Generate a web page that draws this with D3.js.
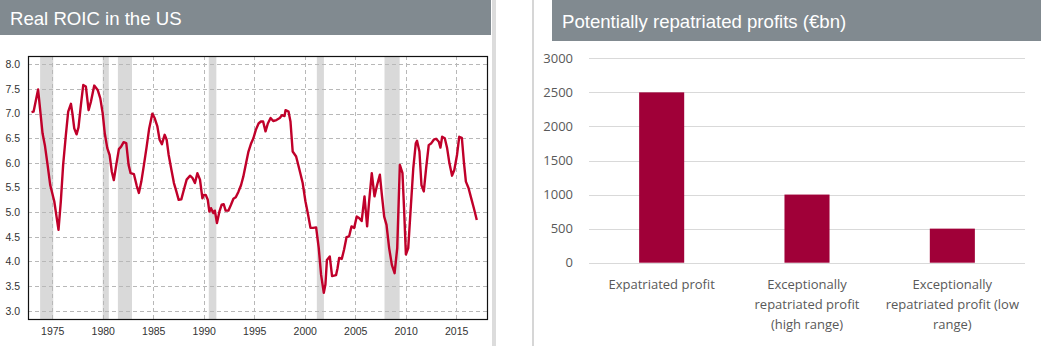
<!DOCTYPE html>
<html>
<head>
<meta charset="utf-8">
<script src="https://cdn.jsdelivr.net/npm/d3@7"></script>
<style>
  html, body { margin: 0; padding: 0; background: #fff; }
  svg { display: block; }
</style>
</head>
<body>
<svg id="chart" width="1041" height="346"></svg>
<script>
// ---------- Left chart data: Real ROIC in the US ----------
const roicYears = [1972.95,1973.15,1973.6,1974.04,1974.27,1974.54,1974.8,1975.2,1975.62,1975.85,1976.08,1976.35,1976.58,1976.85,1977.0,1977.18,1977.41,1977.6,1977.84,1978.07,1978.33,1978.6,1978.83,1979.16,1979.5,1979.76,1980.0,1980.2,1980.45,1980.68,1980.9,1981.1,1981.34,1981.6,1981.82,1982.07,1982.33,1982.56,1982.76,1983.09,1983.36,1983.58,1983.82,1984.08,1984.35,1984.6,1984.91,1985.14,1985.41,1985.63,1985.86,1986.13,1986.33,1986.53,1986.8,1987.05,1987.29,1987.52,1987.78,1988.08,1988.31,1988.64,1988.9,1989.13,1989.37,1989.63,1989.87,1990.0,1990.2,1990.4,1990.56,1990.72,1990.96,1991.1,1991.31,1991.55,1991.78,1991.98,1992.17,1992.44,1992.7,1992.94,1993.17,1993.43,1993.7,1993.92,1994.16,1994.43,1994.7,1994.92,1995.16,1995.43,1995.66,1995.88,1996.12,1996.35,1996.62,1996.88,1997.2,1997.53,1997.76,1998.0,1998.1,1998.4,1998.59,1998.81,1999.15,1999.48,1999.8,2000.07,2000.33,2000.57,2000.83,2001.13,2001.39,2001.62,2001.89,2002.05,2002.2,2002.48,2002.71,2003.1,2003.25,2003.41,2003.67,2003.9,2004.14,2004.4,2004.63,2004.9,2005.15,2005.38,2005.64,2005.92,2006.18,2006.36,2006.64,2006.91,2007.17,2007.44,2007.64,2007.87,2008.1,2008.36,2008.63,2008.9,2009.16,2009.42,2009.68,2009.85,2010.02,2010.25,2010.52,2010.75,2011.0,2011.12,2011.36,2011.56,2011.79,2012.02,2012.28,2012.54,2012.78,2013.01,2013.28,2013.44,2013.61,2013.87,2014.1,2014.33,2014.59,2014.82,2015.08,2015.3,2015.56,2015.76,2015.96,2016.22,2016.49,2016.75,2017.04];
const roicValues = [7.03,7.04,7.49,6.6,6.36,5.96,5.55,5.22,4.64,5.22,5.96,6.57,7.04,7.2,7.0,6.7,6.58,6.72,7.18,7.58,7.55,7.07,7.24,7.57,7.48,7.31,7.0,6.6,6.3,6.16,5.82,5.65,5.96,6.28,6.33,6.42,6.4,5.96,5.79,5.77,5.54,5.39,5.62,5.96,6.33,6.7,7.0,6.91,6.74,6.47,6.38,6.57,6.47,6.16,5.86,5.59,5.42,5.25,5.26,5.49,5.66,5.74,5.69,5.59,5.79,5.66,5.28,5.35,5.35,5.25,5.01,5.08,4.98,5.03,4.78,5.01,5.15,5.16,5.03,5.03,5.15,5.27,5.3,5.41,5.55,5.72,5.96,6.23,6.4,6.5,6.67,6.8,6.84,6.84,6.64,6.8,6.91,6.85,6.87,6.91,6.97,6.95,7.07,7.04,6.84,6.23,6.13,5.86,5.59,5.22,4.95,4.68,4.68,4.69,4.27,3.73,3.36,3.53,4.03,4.1,3.7,3.72,3.86,4.07,4.05,4.24,4.49,4.51,4.71,4.68,4.91,4.88,4.82,5.32,4.71,5.18,5.79,5.32,5.55,5.76,5.35,4.91,4.74,4.27,3.93,3.76,4.27,5.96,5.79,5.01,4.14,4.27,5.15,5.89,6.4,6.45,6.23,5.55,5.42,5.89,6.36,6.4,6.47,6.49,6.43,6.31,6.53,6.5,6.3,5.99,5.74,5.86,6.16,6.53,6.51,6.02,5.62,5.49,5.28,5.08,4.84];
const recessionStarts = [1973.8, 1980.0, 1981.5, 1990.5, 2001.2, 2007.9];
const recessionEnds   = [1975.1, 1980.6, 1982.9, 1991.25, 2001.9, 2009.4];
const leftYTicks = [3.0,3.5,4.0,4.5,5.0,5.5,6.0,6.5,7.0,7.5,8.0];
const leftXTicks = [1975,1980,1985,1990,1995,2000,2005,2010,2015];
const leftTitle = "Real ROIC in the US";

// ---------- Right chart data: Potentially repatriated profits ----------
const barCategories = [
  ["Expatriated profit"],
  ["Exceptionally", "repatriated profit", "(high range)"],
  ["Exceptionally", "repatriated profit (low", "range)"]
];
const barValues = [2500, 1000, 500];
const rightYTicks = [0,500,1000,1500,2000,2500,3000];
const rightTitle = "Potentially repatriated profits (€bn)";

const svg = d3.select("#chart");
const headerColor = "#818a90";

// separators
svg.append("rect").attr("x", 492).attr("y", 0).attr("width", 4).attr("height", 346).attr("fill", "#dcdcdc");
svg.append("rect").attr("x", 532).attr("y", 0).attr("width", 2).attr("height", 346).attr("fill", "#d6d6d6");

// ---------- LEFT ----------
svg.append("rect").attr("x", 0).attr("y", 0).attr("width", 491).attr("height", 35).attr("fill", headerColor);
svg.append("text").attr("x", 10).attr("y", 25).text(leftTitle)
  .attr("fill", "#fff").attr("font-family", "Liberation Sans, Arial, sans-serif").attr("font-size", 18.6);

const L = {x0: 28, x1: 487, y0: 56, y1: 319};
const xL = d3.scaleLinear().domain([1972.6, 2018.05]).range([L.x0, L.x1]);
const yL = d3.scaleLinear().domain([2.83, 8.17]).range([L.y1, L.y0]);
const gL = svg.append("g");

gL.selectAll("rect.rec").data(recessionStarts).join("rect").attr("class", "rec")
  .attr("x", (d) => xL(d)).attr("y", L.y0)
  .attr("width", (d, i) => xL(recessionEnds[i]) - xL(d))
  .attr("height", L.y1 - L.y0).attr("fill", "#d9d9d9");

// grid
gL.selectAll("line.hg").data(leftYTicks).join("line").attr("class", "hg")
  .attr("x1", L.x0).attr("x2", L.x1).attr("y1", (d) => Math.round(yL(d)) + 0.5).attr("y2", (d) => Math.round(yL(d)) + 0.5)
  .attr("stroke", "#b8b8b8").attr("stroke-dasharray", "4,3");
gL.selectAll("line.vg").data(leftXTicks).join("line").attr("class", "vg")
  .attr("y1", L.y0).attr("y2", L.y1).attr("x1", (d) => Math.round(xL(d)) + 0.5).attr("x2", (d) => Math.round(xL(d)) + 0.5)
  .attr("stroke", "#b8b8b8").attr("stroke-dasharray", "4,3");

// axes
const yAxisL = d3.axisLeft(yL).tickValues(leftYTicks).tickFormat(d3.format(".1f")).tickSize(0).tickPadding(8);
const ya = gL.append("g").attr("transform", `translate(${L.x0},0)`).call(yAxisL);
ya.select(".domain").remove();
ya.selectAll("text").attr("font-family", "Liberation Sans, Arial, sans-serif").attr("font-size", 10.5).attr("fill", "#333");

const xAxisL = d3.axisBottom(xL).tickValues(leftXTicks).tickFormat(d3.format("d")).tickSize(0).tickPadding(9);
const xa = gL.append("g").attr("transform", `translate(0,${L.y1})`).call(xAxisL);
xa.select(".domain").remove();
xa.selectAll("text").attr("font-family", "Liberation Sans, Arial, sans-serif").attr("font-size", 10.5).attr("fill", "#333");

// line
const line = d3.line().x((d, i) => xL(roicYears[i])).y((d) => yL(d)).curve(d3.curveLinear);
gL.append("path").datum(roicValues).attr("d", line)
  .attr("fill", "none").attr("stroke", "#c0002a").attr("stroke-width", 2.4).attr("stroke-linejoin", "round");

// frame
gL.append("rect").attr("x", L.x0 + 0.5).attr("y", L.y0 + 0.5).attr("width", L.x1 - L.x0).attr("height", L.y1 - L.y0)
  .attr("fill", "none").attr("stroke", "#111").attr("stroke-width", 1.2);

// ---------- RIGHT ----------
svg.append("rect").attr("x", 552).attr("y", 0).attr("width", 489).attr("height", 41).attr("fill", headerColor);
svg.append("text").attr("x", 562).attr("y", 28).text(rightTitle)
  .attr("fill", "#fff").attr("font-family", "Liberation Sans, Arial, sans-serif").attr("font-size", 18.6);

const R = {x0: 589, x1: 1025, y0: 58.3, y1: 262.7};
const xR = d3.scaleBand().domain(d3.range(barValues.length)).range([R.x0, R.x1]).paddingInner(0.69).paddingOuter(0.345);
const yR = d3.scaleLinear().domain([0, 3000]).range([R.y1, R.y0]);
const gR = svg.append("g");

gR.selectAll("line.rg").data(rightYTicks).join("line").attr("class", "rg")
  .attr("x1", R.x0).attr("x2", R.x1).attr("y1", (d) => Math.round(yR(d)) + 0.5).attr("y2", (d) => Math.round(yR(d)) + 0.5)
  .attr("stroke", "#d9d9d9").attr("stroke-width", 1);

const yAxisR = d3.axisLeft(yR).tickValues(rightYTicks).tickFormat(d3.format("d")).tickSize(0).tickPadding(16);
const yra = gR.append("g").attr("transform", `translate(${R.x0},0)`).call(yAxisR);
yra.select(".domain").remove();
yra.selectAll("text").attr("font-family", "Open Sans, sans-serif").attr("font-size", 13).attr("fill", "#595959");

gR.selectAll("rect.bar").data(barValues).join("rect").attr("class", "bar")
  .attr("x", (d, i) => xR(i)).attr("width", xR.bandwidth())
  .attr("y", (d) => yR(d)).attr("height", (d) => yR(0) - yR(d))
  .attr("fill", "#a00038");

const labels = gR.selectAll("text.cat").data(barCategories).join("text").attr("class", "cat")
  .attr("x", (d, i) => xR(i) + xR.bandwidth() / 2).attr("y", 289)
  .attr("text-anchor", "middle").attr("font-family", "Open Sans, sans-serif").attr("font-size", 13).attr("fill", "#595959");
labels.selectAll("tspan").data((d) => d).join("tspan")
  .attr("x", function () { return d3.select(this.parentNode).attr("x"); })
  .attr("dy", (d, i) => i === 0 ? 0 : 20).text((d) => d);
</script>
</body>
</html>
